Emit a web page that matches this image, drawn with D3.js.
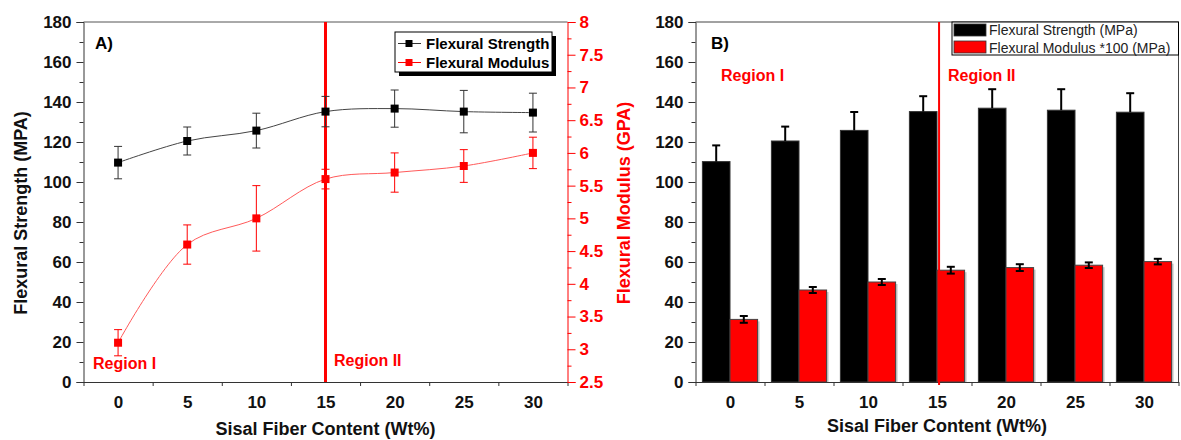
<!DOCTYPE html>
<html lang="en">
<head>
<meta charset="UTF-8">
<title>Flexural strength and modulus vs sisal fiber content</title>
<script src="https://d3js.org/d3.v7.min.js"></script>
<style>
  body { margin: 0; background: #fff; }
  svg { display: block; }
  text { font-family: Arial, "Liberation Sans", sans-serif; }
  .bold { font-weight: bold; }
</style>
</head>
<body>
<div id="chart"></div>
<script>
// fiber content (wt%)
var fiber = [0, 5, 10, 15, 20, 25, 30];

// panel A: line chart
var strength = [109.7, 120.5, 125.7, 135.2, 136.7, 135.2, 134.7];
var strengthErr = [8.1, 7.0, 8.7, 7.6, 9.3, 10.6, 9.7];
var modulus = [3.1, 4.6, 5.0, 5.6, 5.7, 5.8, 6.0];          // GPa
var modulusErr = [0.2, 0.3, 0.5, 0.15, 0.3, 0.25, 0.24];

// panel B: bar chart
var barStrength = [110.2, 120.5, 125.8, 135.2, 136.9, 135.9, 134.9];
var barStrengthErr = [8.1, 7.2, 9.2, 7.7, 9.5, 10.5, 9.5];
var barModulus = [31.3, 46.0, 50.0, 55.9, 57.2, 58.4, 60.2];   // MPa * 100
var barModulusErr = [1.7, 1.5, 1.5, 1.7, 1.7, 1.4, 1.4];

// ticks
var xTicks = [0, 5, 10, 15, 20, 25, 30];
var xMarks = [-2.5, 2.5, 7.5, 12.5, 17.5, 22.5, 27.5, 32.5];
var yTicks = [0, 20, 40, 60, 80, 100, 120, 140, 160, 180];
var yMinor = [10, 30, 50, 70, 90, 110, 130, 150, 170];
var gpaTicks = [2.5, 3, 3.5, 4, 4.5, 5, 5.5, 6, 6.5, 7, 7.5, 8];
var gpaMinor = [2.75, 3.25, 3.75, 4.25, 4.75, 5.25, 5.75, 6.25, 6.75, 7.25, 7.75];

var regionSplitA = 15;
var regionSplitB = 15.15;

var W = 1181, H = 440;
var plotTop = 22, plotBottom = 382;

var svg = d3.select('#chart').append('svg')
    .attr('width', W)
    .attr('height', H);

svg.append('rect').attr('width', W).attr('height', H).attr('fill', '#fff');

var yScale = d3.scaleLinear().domain([0, 180]).range([plotBottom, plotTop]);
var gpaScale = d3.scaleLinear().domain([2.5, 8]).range([plotBottom, plotTop]);

function xAxes(g, x, y0) {
    // labels without ticks
    g.append('g')
        .attr('transform', 'translate(0,' + y0 + ')')
        .call(d3.axisBottom(x).tickValues(xTicks).tickSize(0).tickPadding(14))
        .call(function (a) {
            a.select('.domain').attr('stroke', '#333');
            a.selectAll('text').attr('class', 'bold').attr('font-size', 17).attr('fill', '#111');
        });
    // small marks between categories
    g.append('g')
        .attr('transform', 'translate(0,' + y0 + ')')
        .call(d3.axisBottom(x).tickValues(xMarks).tickSize(4).tickFormat(''))
        .call(function (a) {
            a.select('.domain').remove();
            a.selectAll('line').attr('stroke', '#333');
        });
}

function yAxisLeft(g, x0) {
    g.append('g')
        .attr('transform', 'translate(' + x0 + ',0)')
        .call(d3.axisLeft(yScale).tickValues(yTicks).tickSize(7).tickPadding(5))
        .call(function (a) {
            a.select('.domain').attr('stroke', '#333');
            a.selectAll('line').attr('stroke', '#333');
            a.selectAll('text').attr('class', 'bold').attr('font-size', 17).attr('fill', '#111');
        });
    g.append('g')
        .attr('transform', 'translate(' + x0 + ',0)')
        .call(d3.axisLeft(yScale).tickValues(yMinor).tickSize(4).tickFormat(''))
        .call(function (a) {
            a.select('.domain').remove();
            a.selectAll('line').attr('stroke', '#333');
        });
}

// ---------------- panel A ----------------
var xA = d3.scaleLinear().domain([-2.5, 32.5]).range([83.5, 567.5]);
var gA = svg.append('g');

// frame top
gA.append('line')
    .attr('x1', xA(-2.5)).attr('x2', xA(32.5))
    .attr('y1', plotTop).attr('y2', plotTop)
    .attr('stroke', '#555');

xAxes(gA, xA, plotBottom);
yAxisLeft(gA, xA(-2.5));

// right (red) axis
gA.append('g')
    .attr('transform', 'translate(' + xA(32.5) + ',0)')
    .call(d3.axisRight(gpaScale).tickValues(gpaTicks).tickSize(8).tickPadding(4)
        .tickFormat(function (d) { return String(d); }))
    .call(function (a) {
        a.select('.domain').attr('stroke', 'red');
        a.selectAll('line').attr('stroke', 'red');
        a.selectAll('text').attr('class', 'bold').attr('font-size', 17).attr('fill', 'red');
    });
gA.append('g')
    .attr('transform', 'translate(' + xA(32.5) + ',0)')
    .call(d3.axisRight(gpaScale).tickValues(gpaMinor).tickSize(4).tickFormat(''))
    .call(function (a) {
        a.select('.domain').remove();
        a.selectAll('line').attr('stroke', 'red');
    });

// region divider
gA.append('line')
    .attr('x1', xA(regionSplitA)).attr('x2', xA(regionSplitA))
    .attr('y1', plotTop).attr('y2', plotBottom)
    .attr('stroke', 'red').attr('stroke-width', 3);

var curve = d3.curveCatmullRom.alpha(0.5);

// strength line
var sPts = fiber.map(function (f, i) { return [xA(f), yScale(strength[i])]; });
gA.append('path')
    .attr('d', d3.line().curve(curve)(sPts))
    .attr('fill', 'none').attr('stroke', '#444').attr('stroke-width', 1);

// modulus line
var mPts = fiber.map(function (f, i) { return [xA(f), gpaScale(modulus[i])]; });
gA.append('path')
    .attr('d', d3.line().curve(curve)(mPts))
    .attr('fill', 'none').attr('stroke', '#ff5a5a').attr('stroke-width', 1);

function errBars(g, x, y, vals, errs, color, width) {
    var eb = g.append('g').attr('stroke', color).attr('stroke-width', width).attr('fill', 'none');
    fiber.forEach(function (f, i) {
        var cx = x(f), y1 = y(vals[i] + errs[i]), y2 = y(vals[i] - errs[i]);
        eb.append('line').attr('x1', cx).attr('x2', cx).attr('y1', y1).attr('y2', y2);
        eb.append('line').attr('x1', cx - 4).attr('x2', cx + 4).attr('y1', y1).attr('y2', y1);
        eb.append('line').attr('x1', cx - 4).attr('x2', cx + 4).attr('y1', y2).attr('y2', y2);
    });
}
errBars(gA, xA, yScale, strength, strengthErr, '#333', 1);
errBars(gA, xA, gpaScale, modulus, modulusErr, 'red', 1);

gA.selectAll('rect.sq').data(fiber).enter().append('rect')
    .attr('class', 'sq')
    .attr('x', function (d) { return xA(d) - 4; })
    .attr('y', function (d, i) { return yScale(strength[i]) - 4; })
    .attr('width', 8).attr('height', 8).attr('fill', '#000');

gA.selectAll('rect.mq').data(fiber).enter().append('rect')
    .attr('class', 'mq')
    .attr('x', function (d) { return xA(d) - 4; })
    .attr('y', function (d, i) { return gpaScale(modulus[i]) - 4; })
    .attr('width', 8).attr('height', 8).attr('fill', 'red');

// legend A
var lg = gA.append('g');
lg.append('rect').attr('x', 399).attr('y', 36).attr('width', 157).attr('height', 40).attr('fill', '#000');
lg.append('rect').attr('x', 395).attr('y', 32).attr('width', 157).attr('height', 40)
    .attr('fill', '#fff').attr('stroke', '#000');
[['Flexural Strength', '#000', '#333', 43.5], ['Flexural Modulus', 'red', 'red', 62.5]].forEach(function (e) {
    lg.append('line').attr('x1', 398).attr('x2', 421).attr('y1', e[3]).attr('y2', e[3])
        .attr('stroke', e[2]);
    lg.append('rect').attr('x', 405.5).attr('y', e[3] - 3.5).attr('width', 7).attr('height', 7).attr('fill', e[1]);
    lg.append('text').attr('class', 'bold').attr('x', 426).attr('y', e[3] + 5)
        .attr('font-size', 15).attr('fill', '#000').text(e[0]);
});

gA.append('text').attr('class', 'bold').attr('x', 95).attr('y', 49).attr('font-size', 17).text('A)');
gA.append('text').attr('class', 'bold').attr('x', 93).attr('y', 369).attr('font-size', 16)
    .attr('fill', 'red').text('Region I');
gA.append('text').attr('class', 'bold').attr('x', 334).attr('y', 366).attr('font-size', 16)
    .attr('fill', 'red').text('Region II');

gA.append('text').attr('class', 'bold').attr('x', xA(15)).attr('y', 435)
    .attr('text-anchor', 'middle').attr('font-size', 18).attr('fill', '#111')
    .text('Sisal Fiber Content (Wt%)');
gA.append('text').attr('class', 'bold')
    .attr('transform', 'translate(27,213) rotate(-90)')
    .attr('text-anchor', 'middle').attr('font-size', 18).attr('fill', '#111')
    .text('Flexural Strength (MPA)');
gA.append('text').attr('class', 'bold')
    .attr('transform', 'translate(630,203) rotate(-90)')
    .attr('text-anchor', 'middle').attr('font-size', 18).attr('fill', 'red')
    .text('Flexural Modulus (GPA)');

// ---------------- panel B ----------------
var xB = d3.scaleLinear().domain([-2.5, 32.5]).range([695.5, 1178.5]);
var gB = svg.append('g');

// bar shadows
gB.selectAll('rect.shadow').data(fiber).enter().append('rect')
    .attr('class', 'shadow')
    .attr('x', function (d) { return xB(d) + 2; })
    .attr('y', function (d, i) { return yScale(barModulus[i]) + 2; })
    .attr('width', xB(2) - xB(0))
    .attr('height', function (d, i) { return plotBottom - yScale(barModulus[i]) - 2; })
    .attr('fill', '#c8c8c8');

gB.selectAll('rect.bs').data(fiber).enter().append('rect')
    .attr('class', 'bs')
    .attr('x', function (d) { return xB(d - 2); })
    .attr('y', function (d, i) { return yScale(barStrength[i]); })
    .attr('width', xB(2) - xB(0))
    .attr('height', function (d, i) { return plotBottom - yScale(barStrength[i]); })
    .attr('fill', '#000').attr('stroke', '#333').attr('stroke-width', 1);

gB.selectAll('rect.bm').data(fiber).enter().append('rect')
    .attr('class', 'bm')
    .attr('x', function (d) { return xB(d); })
    .attr('y', function (d, i) { return yScale(barModulus[i]); })
    .attr('width', xB(2) - xB(0))
    .attr('height', function (d, i) { return plotBottom - yScale(barModulus[i]); })
    .attr('fill', 'red').attr('stroke', '#444').attr('stroke-width', 1);

// error bars panel B
var ebB = gB.append('g').attr('stroke', '#000').attr('stroke-width', 2).attr('fill', 'none');
fiber.forEach(function (f, i) {
    var cx = xB(f - 1);
    var yt = yScale(barStrength[i] + barStrengthErr[i]);
    ebB.append('line').attr('x1', cx).attr('x2', cx).attr('y1', yScale(barStrength[i])).attr('y2', yt);
    ebB.append('line').attr('x1', cx - 4).attr('x2', cx + 4).attr('y1', yt).attr('y2', yt);
    var mx = xB(f + 1);
    var m1 = yScale(barModulus[i] + barModulusErr[i]), m2 = yScale(barModulus[i] - barModulusErr[i]);
    ebB.append('line').attr('x1', mx).attr('x2', mx).attr('y1', m1).attr('y2', m2);
    ebB.append('line').attr('x1', mx - 4).attr('x2', mx + 4).attr('y1', m1).attr('y2', m1);
    ebB.append('line').attr('x1', mx - 4).attr('x2', mx + 4).attr('y1', m2).attr('y2', m2);
});

// frame
gB.append('path')
    .attr('d', 'M' + xB(-2.5) + ',' + plotTop + 'H' + xB(32.5) + 'V' + plotBottom)
    .attr('fill', 'none').attr('stroke', '#444');

xAxes(gB, xB, plotBottom);
yAxisLeft(gB, xB(-2.5));

gB.append('line')
    .attr('x1', xB(regionSplitB)).attr('x2', xB(regionSplitB))
    .attr('y1', plotTop).attr('y2', plotBottom + 3)
    .attr('stroke', 'red').attr('stroke-width', 2);

// legend B
var lgB = gB.append('g');
lgB.append('rect').attr('x', 952).attr('y', 22).attr('width', 226.5).attr('height', 33)
    .attr('fill', '#fff').attr('stroke', '#000');
[['Flexural Strength (MPa)', '#000', 24, 35], ['Flexural Modulus *100 (MPa)', 'red', 41, 52.5]].forEach(function (e) {
    lgB.append('rect').attr('x', 954).attr('y', e[2]).attr('width', 32).attr('height', 12)
        .attr('fill', e[1]).attr('stroke', '#333').attr('stroke-width', 0.8);
    lgB.append('text').attr('x', 989).attr('y', e[3]).attr('font-size', 14).attr('fill', '#222').text(e[0]);
});

gB.append('text').attr('class', 'bold').attr('x', 711).attr('y', 49).attr('font-size', 17).text('B)');
gB.append('text').attr('class', 'bold').attr('x', 721).attr('y', 81).attr('font-size', 16)
    .attr('fill', 'red').text('Region I');
gB.append('text').attr('class', 'bold').attr('x', 948).attr('y', 81).attr('font-size', 16)
    .attr('fill', 'red').text('Region II');

gB.append('text').attr('class', 'bold').attr('x', xB(15)).attr('y', 432)
    .attr('text-anchor', 'middle').attr('font-size', 18).attr('fill', '#111')
    .text('Sisal Fiber Content (Wt%)');
</script>
</body>
</html>
